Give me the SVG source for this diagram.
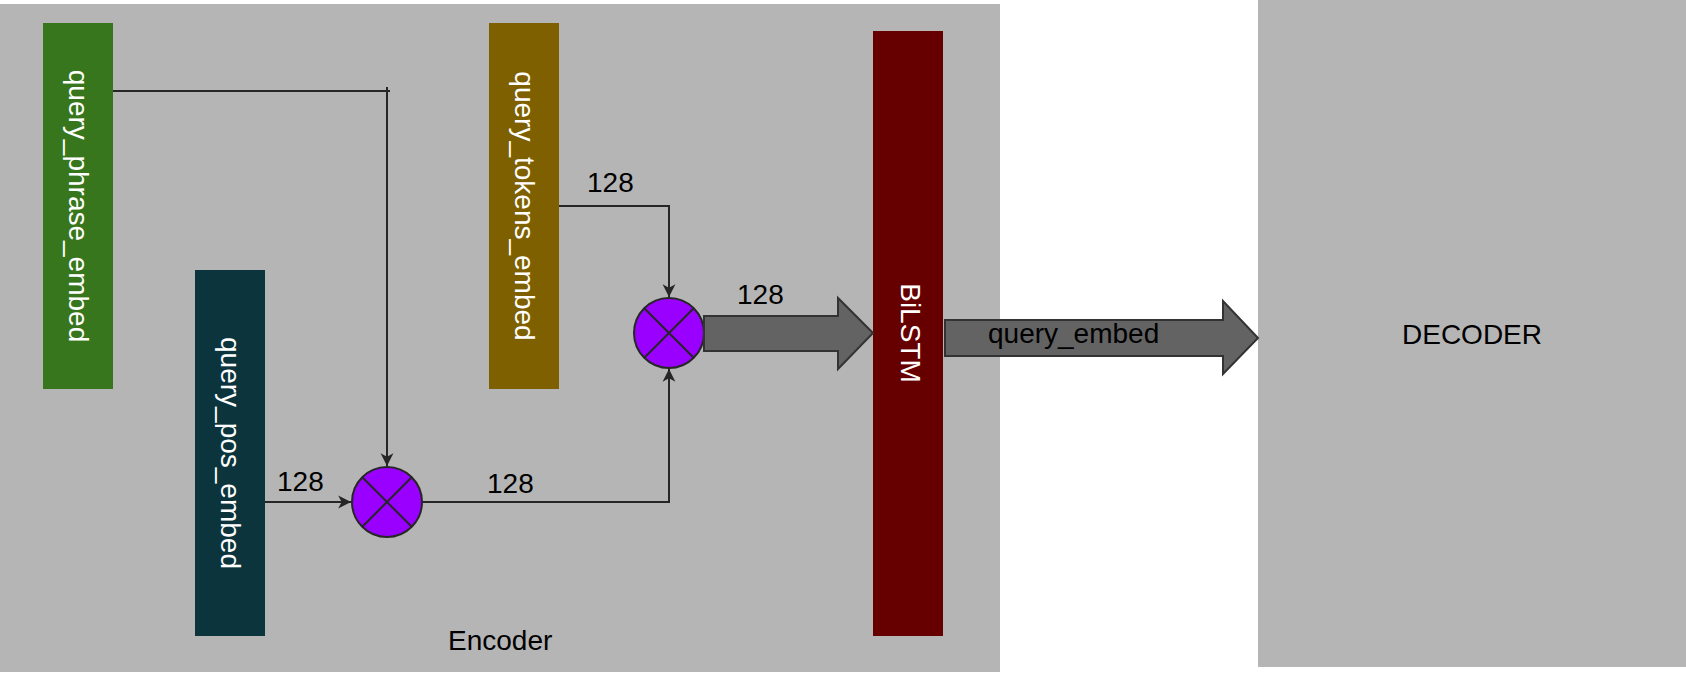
<svg xmlns="http://www.w3.org/2000/svg" width="1686" height="675" viewBox="0 0 1686 675">
<style>
.t{font-family:"Liberation Sans",Arial,sans-serif;font-size:28px;fill:#000}
.w{font-family:"Liberation Sans",Arial,sans-serif;font-size:28px;fill:#fff;text-anchor:middle;dominant-baseline:central}
.ln{fill:none;stroke:#262626;stroke-width:2}
.op{fill:#9900ff;stroke:#262626;stroke-width:2}
.blk{fill:#636363;stroke:#333;stroke-width:2}
</style>
<defs>
<marker id="ah" markerUnits="userSpaceOnUse" markerWidth="14" markerHeight="14" viewBox="0 -6 12 12" refX="11" refY="0" orient="auto">
<path d="M0,-5.5 L11,0 L0,5.5 L3,0 z" fill="#262626"/>
</marker>
</defs>
<rect width="1686" height="675" fill="#fff"/>
<g id="encoder">
<rect x="0" y="4" width="1000" height="668" fill="#b5b5b5"/>
<text class="t" x="448" y="650">Encoder</text>
</g>
<g id="decoder">
<rect x="1258" y="0" width="428" height="667" fill="#b5b5b5"/>
<text class="t" x="1472" y="344" text-anchor="middle">DECODER</text>
</g>
<g id="query_phrase_embed">
<rect x="43" y="23" width="70" height="366" fill="#38761d"/>
<text class="w" transform="rotate(90 78 206)" x="78" y="206">query_phrase_embed</text>
</g>
<g id="query_pos_embed">
<rect x="195" y="270" width="70" height="366" fill="#0c343d"/>
<text class="w" transform="rotate(90 230 453)" x="230" y="453">query_pos_embed</text>
</g>
<g id="query_tokens_embed">
<rect x="489" y="23" width="70" height="366" fill="#7f6000"/>
<text class="w" transform="rotate(90 524 206)" x="524" y="206">query_tokens_embed</text>
</g>
<g id="bilstm">
<rect x="873" y="31" width="70" height="605" fill="#660000"/>
<text class="w" transform="rotate(90 910 333)" x="910" y="333">BiLSTM</text>
</g>
<g id="mult1">
<circle class="op" cx="387" cy="502" r="35"/>
<path class="ln" d="M362.3,477.3 L411.7,526.7 M411.7,477.3 L362.3,526.7"/>
</g>
<g id="mult2">
<circle class="op" cx="669" cy="333" r="35"/>
<path class="ln" d="M644.3,308.3 L693.7,357.7 M693.7,308.3 L644.3,357.7"/>
</g>
<g id="connectors">
<path class="ln" d="M113,91 L390,91"/>
<path class="ln" d="M387,87 L387,466" marker-end="url(#ah)"/>
<path class="ln" d="M265,502 L351,502" marker-end="url(#ah)"/>
<path class="ln" d="M559,206 L669,206 L669,297" marker-end="url(#ah)"/>
<path class="ln" d="M422,502 L669,502 L669,369" marker-end="url(#ah)"/>
<polygon class="blk" points="704,316 838,316 838,298 873,333 838,369 838,351 704,351"/>
<polygon class="blk" points="945,320 1223,320 1223,301 1258,338 1223,374 1223,356 945,356"/>
<text class="t" x="277" y="491">128</text>
<text class="t" x="487" y="493">128</text>
<text class="t" x="587" y="192">128</text>
<text class="t" x="737" y="304">128</text>
<text class="t" x="988" y="343">query_embed</text>
</g>
</svg>
